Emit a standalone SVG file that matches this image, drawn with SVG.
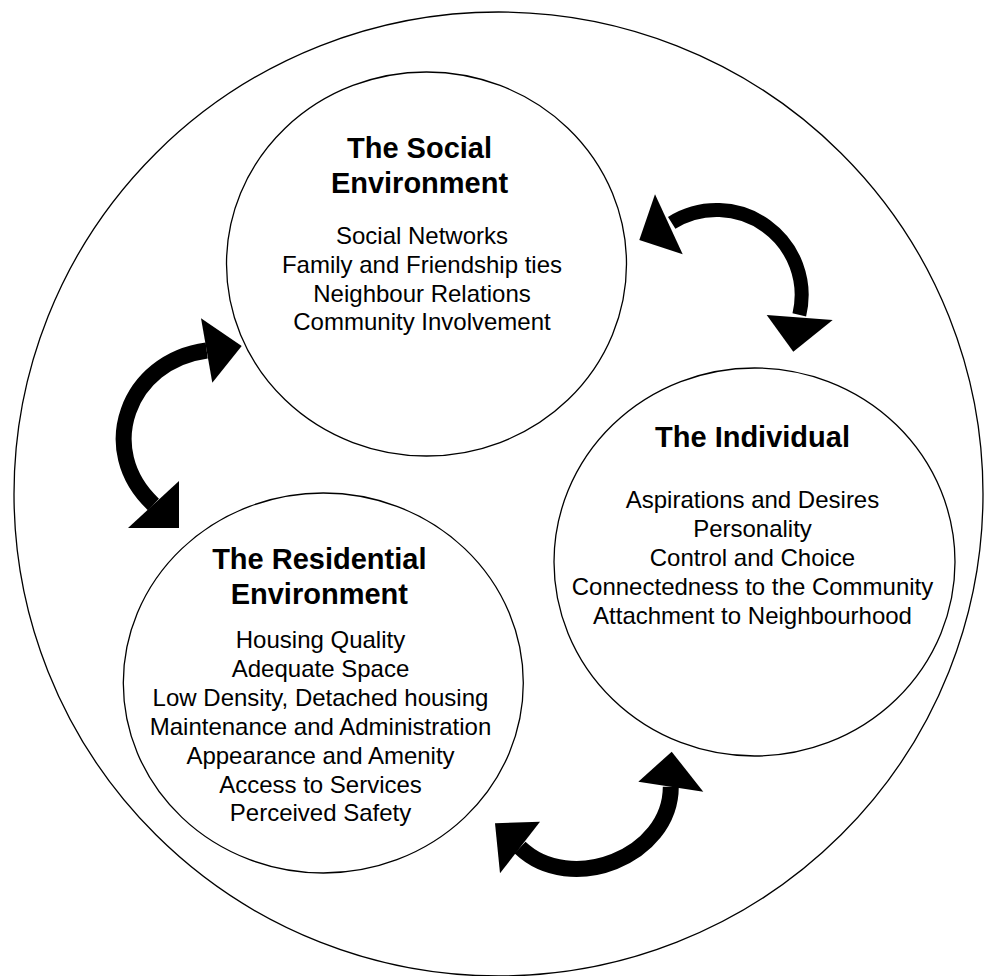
<svg xmlns="http://www.w3.org/2000/svg" width="984" height="976" viewBox="0 0 984 976">
<style>
.ring{fill:none;stroke:#000;stroke-width:1.3}
.title{font-family:"Liberation Sans",Arial,sans-serif;font-weight:bold;font-size:29px;text-anchor:middle;fill:#000}
.body{font-family:"Liberation Sans",Arial,sans-serif;font-size:24px;text-anchor:middle;fill:#000}
.shaft{fill:none;stroke:#000;stroke-width:14}
.head{fill:#000;stroke:none}
</style>
<rect width="984" height="976" fill="#fff"/>
<g id="outer">
<ellipse class="ring" cx="498.5" cy="494" rx="484.5" ry="482"/>
</g>
<g id="social">
<ellipse class="ring" cx="426.5" cy="264" rx="200" ry="192"/>
<text class="title" x="419.5" y="158.3">The Social</text>
<text class="title" x="419.5" y="192.7">Environment</text>
<text class="body" x="422" y="244">Social Networks</text>
<text class="body" x="422" y="272.7">Family and Friendship ties</text>
<text class="body" x="422" y="301.7">Neighbour Relations</text>
<text class="body" x="422" y="330">Community Involvement</text>
</g>
<g id="individual">
<ellipse class="ring" cx="754.5" cy="562" rx="200.5" ry="194"/>
<text class="title" x="752.5" y="446.7">The Individual</text>
<text class="body" x="752.5" y="508">Aspirations and Desires</text>
<text class="body" x="752.5" y="537">Personality</text>
<text class="body" x="752.5" y="566">Control and Choice</text>
<text class="body" x="752.5" y="595">Connectedness to the Community</text>
<text class="body" x="752.5" y="624">Attachment to Neighbourhood</text>
</g>
<g id="residential">
<ellipse class="ring" cx="323.3" cy="683" rx="200" ry="190"/>
<text class="title" x="319.3" y="569">The Residential</text>
<text class="title" x="319.3" y="604">Environment</text>
<text class="body" x="320.5" y="648">Housing Quality</text>
<text class="body" x="320.5" y="677">Adequate Space</text>
<text class="body" x="320.5" y="706">Low Density, Detached housing</text>
<text class="body" x="320.5" y="735">Maintenance and Administration</text>
<text class="body" x="320.5" y="763.5">Appearance and Amenity</text>
<text class="body" x="320.5" y="792.5">Access to Services</text>
<text class="body" x="320.5" y="821">Perceived Safety</text>
</g>
<g id="connectors">
<g id="arrow-social-individual">
<path class="shaft" d="M 671.7 222.9 A 85 85 0 0 1 799.3 314.8"/>
<polygon class="head" points="655,194.3 639.3,240 682.7,254.3"/>
<polygon class="head" points="766.7,315 793.3,351.7 832.7,320"/>
</g>
<g id="arrow-social-residential">
<path class="shaft" style="stroke-width:16" d="M 206.7 350.5 C 127.5 361 95.1 450.1 153.5 504.5"/>
<polygon class="head" points="201,318.3 241.7,346 212.3,382.7"/>
<polygon class="head" points="179,481 179,528 128,528"/>
</g>
<g id="arrow-residential-individual">
<path class="shaft" style="stroke-width:16" d="M 670.8 786.7 C 670.8 856.7 570.4 895.8 520 847.5"/>
<polygon class="head" points="495,823.3 540,821.7 500,873.3"/>
<polygon class="head" points="671.7,751.7 638.3,781.7 703.3,791.7"/>
</g>
</g>
</svg>
